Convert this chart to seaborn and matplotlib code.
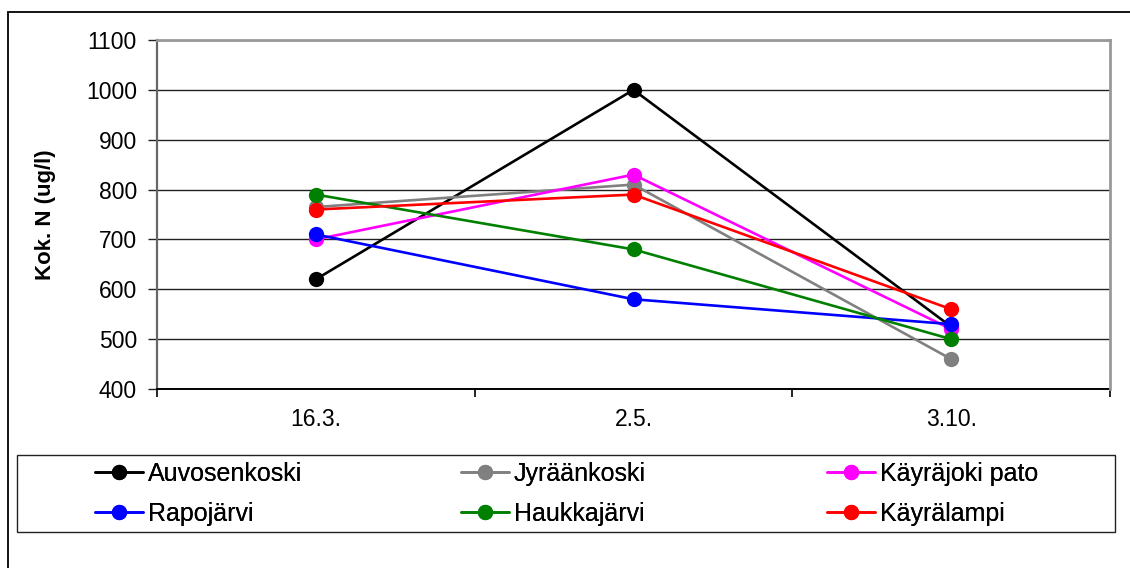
import matplotlib
matplotlib.use("Agg")
import matplotlib.pyplot as plt
from matplotlib.patches import Rectangle
from matplotlib.ticker import FixedLocator
import pandas as pd
import seaborn as sns

# Sampling dates and total nitrogen per site
dates = ["16.3.", "2.5.", "3.10."]
sites = ["Auvosenkoski", "Jyräänkoski", "Käyräjoki pato",
         "Rapojärvi", "Haukkajärvi", "Käyrälampi"]
auvosenkoski = [620, 1000, 525]
jyraankoski = [765, 810, 460]
kayrajoki_pato = [700, 830, 520]
rapojarvi = [710, 580, 530]
haukkajarvi = [790, 680, 500]
kayralampi = [760, 790, 560]
site_colors = ["#000000", "#808080", "#ff00ff", "#0000ff", "#008000", "#ff0000"]
y_ticks = [400, 500, 600, 700, 800, 900, 1000, 1100]

series = [auvosenkoski, jyraankoski, kayrajoki_pato, rapojarvi, haukkajarvi, kayralampi]
df = pd.DataFrame(
    [(s, d, v) for s, vals in zip(sites, series) for d, v in zip(dates, vals)],
    columns=["site", "date", "value"],
)

sns.set_theme(style="white")
plt.rcParams["font.family"] = ["Liberation Sans", "DejaVu Sans"]
plt.rcParams["text.color"] = "black"
plt.rcParams["xtick.color"] = "black"
plt.rcParams["ytick.color"] = "black"

W, H = 1130, 568
fig = plt.figure(figsize=(W / 100, H / 100), dpi=100)
fig.patch.set_facecolor("white")

def fx(px):
    return px / W

def fy(py):
    return 1 - py / H

ax = fig.add_axes([fx(157), fy(389), fx(1110) - fx(157), fy(40) - fy(389)])

sns.lineplot(data=df, x="date", y="value", hue="site", hue_order=sites,
             palette=site_colors, marker="o", markersize=11,
             markeredgewidth=0, linewidth=1.9, sort=False, ax=ax, legend=False)

ax.set_xlim(-0.5, 2.5)
ax.set_ylim(400, 1100)
ax.set_yticks(y_ticks)
ax.set_xticks(range(len(dates)))
ax.set_xticklabels(dates)
ax.xaxis.set_minor_locator(FixedLocator([-0.5, 0.5, 1.5, 2.5]))
ax.tick_params(axis="x", which="major", length=0, pad=14, labelsize=16.5,
               labelcolor="black")
ax.tick_params(axis="x", which="minor", length=5.5, width=1.2, direction="out",
               color="black", bottom=True)
ax.tick_params(axis="y", which="major", length=6.5, width=1.0, direction="out",
               pad=8, labelsize=16.5, color="#222222", labelcolor="black", left=True)
ax.set_xlabel("")
ax.set_ylabel("Kok. N (ug/l)", fontsize=16, fontweight="bold", color="black")
ax.yaxis.label.set_va("center")
ax.yaxis.set_label_coords((45 - 157) / (1110 - 157), 0.5)

ax.set_axisbelow(True)
ax.yaxis.grid(True, color="#222222", linewidth=1.0)
ax.xaxis.grid(False)

for side in ("top", "right"):
    ax.spines[side].set_color("#999999")
    ax.spines[side].set_linewidth(2.0)
    ax.spines[side].set_zorder(3)
ax.spines["left"].set_color("#666666")
ax.spines["left"].set_linewidth(1.6)
ax.spines["bottom"].set_color("black")
ax.spines["bottom"].set_linewidth(1.4)

# Outer chart frame (left and top edges within the canvas)
fig.add_artist(Rectangle((fx(8), fy(600)), fx(1200), fy(12) - fy(600),
                         transform=fig.transFigure, fill=False,
                         edgecolor="black", linewidth=1.3))

# Legend frame
fig.add_artist(Rectangle((fx(17), fy(532)), fx(1115) - fx(17), fy(455) - fy(532),
                         transform=fig.transFigure, fill=False,
                         edgecolor="#222222", linewidth=1.0))

handles = ax.lines[:len(sites)]
col_x = [95, 461, 827]
for c in range(3):
    idx = [c, c + 3]
    leg = fig.legend([handles[i] for i in idx], [sites[i] for i in idx],
                     loc="upper left", bbox_to_anchor=(fx(col_x[c]), fy(462)),
                     bbox_transform=fig.transFigure, frameon=False, ncol=1,
                     fontsize=18, borderpad=0, borderaxespad=0,
                     handlelength=1.92, handletextpad=0.2, labelspacing=0.62)
    for t in leg.get_texts():
        t.set_color("black")
    fig.add_artist(leg)

fig.savefig("out.png", dpi=100, facecolor="white")
